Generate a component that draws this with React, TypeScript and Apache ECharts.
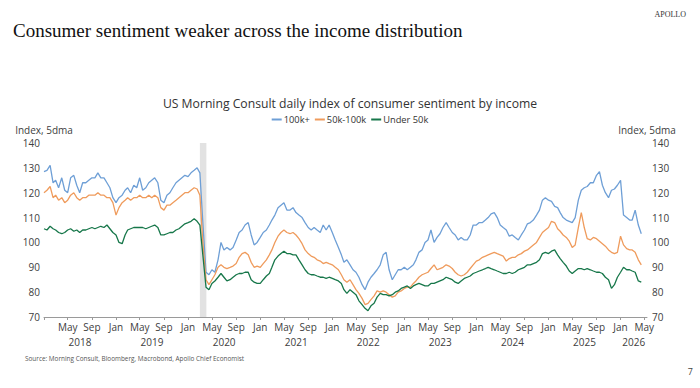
import React, { useEffect, useRef } from "react";
import * as echarts from "echarts";

// Semi-monthly readings (1st and 16th of each month), Jan 2018 – Apr 2026
const blue100k = [
  128.5, 129, 131, 124, 125, 122, 126, 121, 120, 126, 127, 123, 120, 124, 124, 125, 126, 126, 128, 126,
  126, 124, 122, 118, 116, 118, 119, 121, 122, 120, 123, 122, 126, 121, 122, 124, 125, 126, 124, 117,
  116, 119, 120, 122, 124, 125, 126, 127, 126.5, 128, 129, 130, 128, 108, 88, 87, 89, 88, 93, 100,
  97, 98, 97, 98, 101, 104, 105, 107, 108, 103, 99, 100, 102, 104, 105, 107, 109, 111, 114, 115,
  116, 113, 113, 114, 112, 111, 110, 108, 106, 105, 106, 105, 104, 107, 105, 107, 104, 101, 98, 95,
  92, 93, 91, 89, 88, 86, 83, 81, 84, 86, 87.5, 89, 91, 95, 96, 89, 85, 87, 89, 89,
  90, 89, 90, 91, 93, 96, 97, 100, 101, 105, 100, 102, 103.5, 106, 108, 106, 104, 103, 101, 102,
  101, 101, 103, 107, 107, 108, 108, 109, 110, 111.5, 112, 110, 107, 106, 105, 102.5, 103, 102, 101, 103,
  105, 107.5, 108, 109, 111, 113, 117, 118, 117, 116.5, 114.5, 114, 112, 110, 109, 108.5, 108, 110, 117, 121,
  122, 122.5, 124, 124, 127, 128.5, 123, 120, 118, 121, 121.5, 123, 125, 111, 110, 109, 109, 113, 107, 103.5,
];

const orange50k100k = [
  120, 121, 122.5, 118, 119, 117, 118, 116, 117, 119, 120, 118, 117, 118, 118, 119, 119, 119, 120, 119,
  119, 118, 118, 116, 111, 114, 116, 117, 118, 117, 118, 118, 119, 118, 118, 119, 118, 119, 118, 114,
  113, 115, 115, 116, 117, 118, 119, 120, 120, 121, 122, 121.5, 119, 100, 85, 83, 85, 87, 90, 91,
  90, 89.5, 90, 90.5, 91.5, 94, 95.5, 96, 95, 92, 90, 90.5, 90, 91.5, 93, 95, 97, 100, 102.5, 104,
  105, 104, 103.5, 104, 103, 101.5, 99.5, 97, 95.5, 94.5, 94, 93, 92.5, 91.5, 92, 91.5, 91, 90, 89, 87,
  85, 84, 85, 83, 81, 79.5, 77.5, 75, 75.5, 77, 78.5, 80.5, 80, 80.5, 80, 79, 78, 78.5, 80, 80.5,
  81.5, 82, 82, 83.5, 84.5, 86, 87, 87.5, 88, 89.5, 91, 89, 89.5, 90, 91, 90.5, 89.5, 88, 87, 86.5,
  87, 88, 89.5, 91, 92.5, 93, 94, 94.5, 95, 95.5, 96, 95.5, 95, 94.5, 92.5, 93.5, 94, 94, 95, 95.5,
  96.5, 97, 98, 99, 100, 102, 104, 105, 106, 108.5, 108, 105.5, 104.5, 103, 102, 100.5, 98, 99, 106, 112,
  106, 101.5, 101, 102, 101.5, 100.5, 99.5, 98.5, 97, 96, 95.5, 96, 102.5, 99, 97.5, 97, 97, 96, 93, 91,
];

const greenUnder50k = [
  105.5, 105, 106.5, 105.5, 105, 104, 103.5, 104, 105, 105.5, 104.5, 105, 104, 105, 105, 105.5, 106, 105.5, 106, 106.5,
  106, 107, 105.5, 104, 103, 100, 99.5, 103, 105, 105.5, 106, 106, 106, 106, 105.5, 106, 106.5, 107, 106, 103,
  103, 103.5, 104, 104, 105, 105.5, 106.5, 107.5, 108, 108.5, 109.5, 108.5, 107, 95, 82, 81, 83.5, 84.5, 86, 87.5,
  86, 84.5, 85, 86, 87, 87.5, 87.5, 88, 88, 85, 84, 83.5, 83.5, 85, 86.5, 87.5, 90, 93, 94.5, 95.5,
  96.5, 95.5, 95.5, 95, 95, 93, 91, 89, 87.5, 87, 87, 86.5, 86, 86, 85.5, 86, 85.5, 85, 84.5, 83.5,
  81, 79.5, 81, 80, 79, 76.5, 75, 73.5, 72.5, 74.5, 75.5, 78, 79.5, 79, 79, 78.5, 79, 80, 80.5, 81.5,
  82, 82.5, 81.5, 82.5, 83, 83.5, 83, 82.5, 82.5, 83.5, 83.5, 84, 84.5, 85, 86, 85.5, 85, 84, 83.5, 84.5,
  85.5, 86, 86.5, 87.5, 88, 88.5, 89, 89.5, 90, 89.5, 89, 88.5, 88, 87.5, 87.5, 88, 87.5, 88, 89, 89.5,
  90, 91, 91, 91.5, 92, 93, 95.5, 96, 95.5, 96.5, 97, 95, 93.5, 92, 90.5, 88.5, 87.5, 88.5, 89.5, 89.5,
  89, 89.5, 89, 88.5, 88, 88, 87.5, 86, 85, 81.5, 83, 86, 88, 90, 89, 89, 88.5, 88, 84.5, 84,
];

const seriesNames = ["100k+", "50k-100k", "Under 50k"];
const recessionBand = ["2020-03-01", "2020-04-03"];
const axisStart = "2018-01-01";
const axisEnd = "2026-05-15";
const monthNames = ["Jan", "Feb", "Mar", "Apr", "May", "Jun", "Jul", "Aug", "Sep", "Oct", "Nov", "Dec"];
const yearLabels = [2018, 2019, 2020, 2021, 2022, 2023, 2024, 2025, 2026];
const yTicks = { min: 70, max: 140, interval: 10 };

const pad = (n: number) => (n < 10 ? "0" + n : "" + n);

function buildDates(): string[] {
  const out: string[] = [];
  for (let y = 2018; y <= 2026; y++) {
    for (let m = 1; m <= 12; m++) {
      if (y === 2026 && m > 4) break;
      out.push(`${y}-${pad(m)}-01`);
      out.push(`${y}-${pad(m)}-16`);
    }
  }
  return out;
}

const ts = (s: string) => {
  const [y, m, d] = s.split("-").map(Number);
  return new Date(y, m - 1, d).getTime();
};

export default function App() {
  const ref = useRef<HTMLDivElement>(null);

  useEffect(() => {
    if (!ref.current) return;
    const chart = echarts.init(ref.current, undefined, { renderer: "svg" });
    const dates = buildDates();

    const minT = ts(axisStart);
    const maxT = ts(axisEnd);
    // Ticks at Jan / May / Sep
    const tickVals: number[] = [];
    for (let y = 2018; y <= 2026; y++) {
      for (const m of [0, 4, 8]) {
        const t = new Date(y, m, 1).getTime();
        if (t <= maxT) tickVals.push(t);
      }
    }
    const labelVals = tickVals.filter((t) => t > minT);
    const yearVals = yearLabels.map((y) => {
      const a = Math.max(new Date(y, 0, 1).getTime(), minT);
      const b = Math.min(new Date(y + 1, 0, 1).getTime(), maxT);
      return (a + b) / 2;
    });

    const font = "Open Sans";
    const labelColor = "#404040";
    const colors = ["#6e9fd6", "#ef9b5c", "#17774a"];
    const allData = [blue100k, orange50k100k, greenUnder50k];

    const yAxisBase = (pos: "left" | "right") => ({
      type: "value",
      position: pos,
      min: yTicks.min,
      max: yTicks.max,
      interval: yTicks.interval,
      name: "Index, 5dma",
      nameLocation: "end",
      nameGap: 8,
      nameTextStyle: { fontSize: 10, color: labelColor, fontFamily: font },
      axisLine: { show: false },
      axisTick: { show: false },
      splitLine: { show: false },
      axisLabel: { fontSize: 10, color: labelColor, fontFamily: font, margin: pos === "left" ? 4 : 5 },
    });

    chart.setOption({
      animation: false,
      backgroundColor: "#ffffff",
      color: colors,
      title: {
        text: "US Morning Consult daily index of consumer sentiment by income",
        left: "center",
        top: 97,
        padding: 0,
        textStyle: { fontSize: 12.2, fontWeight: "normal", color: "#333", fontFamily: font },
      },
      legend: {
        data: seriesNames,
        top: 115,
        left: "center",
        padding: 0,
        itemGap: 5,
        itemWidth: 10,
        itemHeight: 2,
        icon: "rect",
        textStyle: { fontSize: 9.3, color: "#333", fontFamily: font, padding: [0, 0, 0, -3] },
      },
      grid: { left: 44, right: 53, top: 143, bottom: 71, containLabel: false },
      xAxis: [
        {
          type: "value",
          min: minT,
          max: maxT,
          axisLine: { show: true, lineStyle: { color: "#9a9a9a", width: 1 } },
          axisTick: { show: true, length: 3, lineStyle: { color: "#9a9a9a" }, customValues: tickVals },
          splitLine: { show: false },
          axisLabel: {
            show: true,
            customValues: labelVals,
            fontSize: 10,
            color: labelColor,
            fontFamily: font,
            margin: 5,
            formatter: (v: number) => monthNames[new Date(v).getMonth()],
          },
        },
        {
          type: "value",
          position: "bottom",
          offset: 15,
          min: minT,
          max: maxT,
          axisLine: { show: false },
          axisTick: { show: false },
          splitLine: { show: false },
          axisLabel: {
            show: true,
            customValues: yearVals,
            fontSize: 10,
            color: labelColor,
            fontFamily: font,
            margin: 5,
            formatter: (v: number) => String(new Date(v).getFullYear()),
          },
        },
      ],
      yAxis: [yAxisBase("left"), yAxisBase("right")],
      series: seriesNames.map((name, i) => ({
        name,
        type: "line",
        xAxisIndex: 0,
        yAxisIndex: 0,
        showSymbol: false,
        symbol: "none",
        data: dates.map((d, j) => [ts(d), allData[i][j]]),
        lineStyle: { width: 1.3, color: colors[i] },
        itemStyle: { color: colors[i] },
        z: 3 + i,
        markArea:
          i === 0
            ? {
                silent: true,
                itemStyle: { color: "#e2e2e2" },
                data: [[{ xAxis: ts(recessionBand[0]) }, { xAxis: ts(recessionBand[1]) }]],
              }
            : undefined,
      })),
      graphic: [
        {
          type: "text",
          left: 13,
          top: 21,
          style: {
            text: "Consumer sentiment weaker across the income distribution",
            fontSize: 19,
            fontFamily: "Liberation Serif",
            fill: "#111",
          },
        },
        {
          type: "text",
          right: 14,
          top: 10,
          style: { text: "APOLLO", fontSize: 8, fontFamily: "Liberation Serif", fill: "#333" },
        },
        {
          type: "text",
          left: 25,
          top: 355,
          style: {
            text: "Source: Morning Consult, Bloomberg, Macrobond, Apollo Chief Economist",
            fontSize: 6.4,
            fontFamily: font,
            fill: "#555",
          },
        },
        {
          type: "text",
          right: 7,
          top: 367,
          style: { text: "7", fontSize: 9, fontFamily: font, fill: "#444" },
        },
      ],
    });
    return () => chart.dispose();
  }, []);

  return (
    <div
      ref={ref}
      style={{ position: "fixed", left: 0, top: 0, width: 700, height: 388, background: "#fff" }}
    />
  );
}
